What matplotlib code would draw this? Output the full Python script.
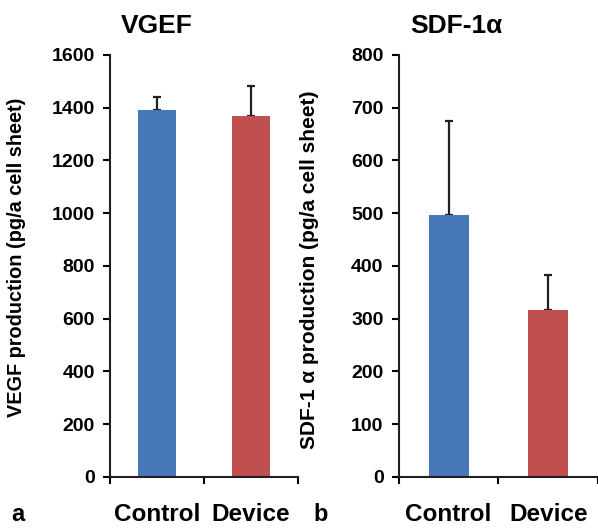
import matplotlib.pyplot as plt

plt.rcParams['font.family'] = ['Liberation Sans', 'DejaVu Sans']
plt.rcParams['font.weight'] = 'bold'

categories = ['Control', 'Device']
vegf_mean = [1390, 1368]
vegf_err = [51, 113]
sdf_mean = [497, 317]
sdf_err = [178, 66]
colors = ['#4677B8', '#C0504D']

fig = plt.figure(figsize=(5.98, 5.29), dpi=100)
ax1 = fig.add_axes([0.184, 0.0983, 0.314, 0.798])
ax2 = fig.add_axes([0.667, 0.0983, 0.333, 0.798])


def draw_panel(ax, means, errs, ymax, step, title, title_x, ylabel, lab_size, lab_xy):
    pos = [0.5, 1.5]
    ax.bar(pos, means, width=0.4, color=colors, zorder=2)
    ax.errorbar(pos, means, yerr=[[0, 0], errs], fmt='none', ecolor='#231F20',
                elinewidth=1.6, capsize=3, capthick=1.6, zorder=1)
    ax.set_xlim(0, 2)
    ax.set_ylim(0, ymax)
    ax.set_yticks(range(0, ymax + 1, step))
    ax.set_xticks([0, 1, 2])
    ax.set_xticklabels([])
    ax.set_xticks(pos, minor=True)
    ax.set_xticklabels(categories, minor=True, fontsize=17.5, fontweight='bold')
    ax.tick_params(axis='x', which='minor', length=0, pad=19)
    ax.tick_params(axis='x', which='major', direction='out', length=5, width=1.5)
    ax.tick_params(axis='y', direction='out', length=5, width=1.5, labelsize=14, pad=6)
    for s in ['top', 'right']:
        ax.spines[s].set_visible(False)
    for s in ['left', 'bottom']:
        ax.spines[s].set_linewidth(1.5)
        ax.spines[s].set_color('#231F20')
    ax.set_title(title, fontsize=19, fontweight='bold', pad=16, x=title_x)
    ax.set_ylabel(ylabel, fontsize=lab_size, fontweight='bold')
    ax.yaxis.set_label_coords(*lab_xy)


draw_panel(ax1, vegf_mean, vegf_err, 1600, 200, 'VGEF', 0.25,
           'VEGF production (pg/a cell sheet)', 14.3, (-0.445, 0.52))
draw_panel(ax2, sdf_mean, sdf_err, 800, 100, 'SDF-1α', 0.29,
           'SDF-1 α production (pg/a cell sheet)', 15, (-0.40, 0.49))

fig.text(0.018, 0.016, 'a', fontsize=17, fontweight='bold')
fig.text(0.525, 0.016, 'b', fontsize=17, fontweight='bold')

fig.savefig('out.png', dpi=100)
